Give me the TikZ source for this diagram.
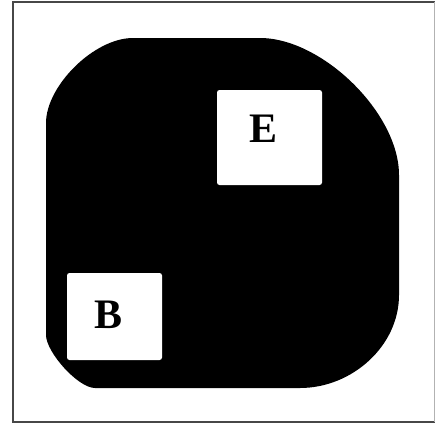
\documentclass[tikz,border=0pt]{standalone}
\usepackage{fontspec}
\setmainfont{Liberation Serif}
\begin{document}
\begin{tikzpicture}[x=1pt,y=-1pt,
  frameline/.style={draw=black!72, line width=2pt},
  whitebox/.style={fill=white, draw=none, rectangle, rounded corners=2.5pt, inner sep=0pt},
  lbl/.style={inner sep=0pt, anchor=base, font=\fontsize{42}{42}\selectfont\bfseries}]
\useasboundingbox (0,0) rectangle (435,423);
% frame
\coordinate (ftl) at (13,1.5);
\coordinate (fbl) at (13,421.5);
\coordinate (ftr) at (434.5,1.5);
\coordinate (fbr) at (434.5,421.5);
\draw[frameline] (ftr) -- (ftl) -- (fbl) -- (fbr);
\draw[draw=black!30, line width=1pt] (ftr) -- (fbr);
% black blob
\fill[black] (133,38) -- (260,38)
  .. controls (322,38) and (399,113) .. (399,175)
  -- (399,295)
  .. controls (399,346) and (352,388) .. (300,388)
  -- (95,388)
  .. controls (78,388) and (46,352) .. (46,335)
  -- (46,123)
  .. controls (46,86) and (94,38) .. (133,38) -- cycle;
% boxes
\node[whitebox, minimum width=105pt, minimum height=95pt] (boxE) at (269.5,137.5) {};
\node[whitebox, minimum width=95pt, minimum height=87pt] (boxB) at (114.5,316.5) {};
% labels
\node[lbl] (E) at (263.5,142) {E};
\node[lbl] (B) at (109,328) {B};
\end{tikzpicture}
\end{document}
